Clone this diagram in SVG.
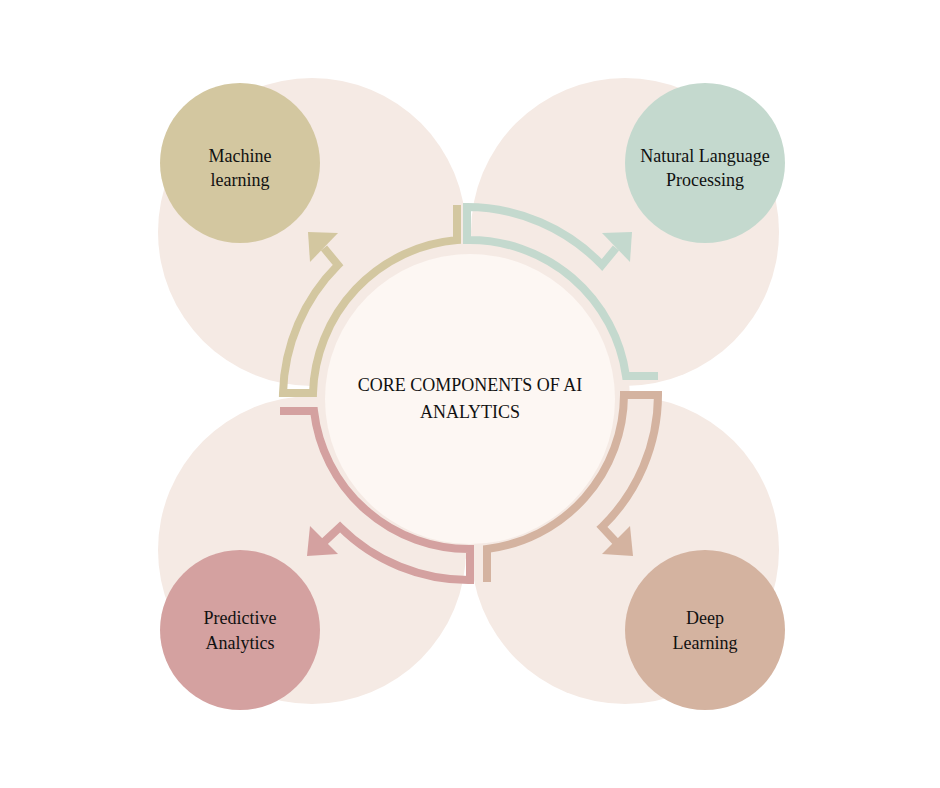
<svg xmlns="http://www.w3.org/2000/svg" width="940" height="788" viewBox="0 0 940 788">
<style>
.bg{fill:#F5EAE4}
.t{font-family:"Liberation Serif",serif;font-size:18px;fill:#111;text-anchor:middle}
.a{fill:none;stroke-width:8;stroke-linejoin:miter}
</style>
<rect width="940" height="788" fill="#fff"/>
<g id="backdrop">
<circle class="bg" cx="312" cy="232" r="154"/>
<circle class="bg" cx="625" cy="232" r="154"/>
<circle class="bg" cx="312" cy="550" r="154"/>
<circle class="bg" cx="625" cy="550" r="154"/>
<circle class="bg" cx="470" cy="399" r="160"/>
</g>
<g id="center">
<circle cx="470" cy="399" r="145" fill="#FDF7F3"/>
<text class="t" x="470" y="391">CORE COMPONENTS OF AI</text>
<text class="t" x="470" y="418">ANALYTICS</text>
</g>
<g id="connectors">
<path class="a" stroke="#D3C7A0" d="M457,205 V240 A158 158 0 0 0 313,393 H283 A188 188 0 0 1 338,265 L324,248"/>
<polygon fill="#D3C7A0" points="308,232 338,233 310,262"/>
<path class="a" stroke="#C4D9CE" d="M658,376 H626 A158 158 0 0 0 467,240 V207 A188 188 0 0 1 602,265 L616,248"/>
<polygon fill="#C4D9CE" points="632,232 602,233 630,262"/>
<path class="a" stroke="#D4A1A0" d="M280,411 H314 A156 156 0 0 0 470,549 V580 A182 182 0 0 1 340,527 L324,542"/>
<polygon fill="#D4A1A0" points="307,556 338,554 310,526"/>
<path class="a" stroke="#D4B3A0" d="M487,582 V549 A156 156 0 0 0 624,395 H658 A185 185 0 0 1 602,527 L616,542"/>
<polygon fill="#D4B3A0" points="633,556 602,554 630,526"/>
</g>
<g id="ml"><circle cx="240" cy="163" r="80" fill="#D3C7A0"/>
<text class="t" x="240" y="162">Machine</text><text class="t" x="240" y="186">learning</text></g>
<g id="nlp"><circle cx="705" cy="163" r="80" fill="#C4D9CE"/>
<text class="t" x="705" y="162">Natural Language</text><text class="t" x="705" y="186">Processing</text></g>
<g id="pa"><circle cx="240" cy="630" r="80" fill="#D4A1A0"/>
<text class="t" x="240" y="624">Predictive</text><text class="t" x="240" y="649">Analytics</text></g>
<g id="dl"><circle cx="705" cy="630" r="80" fill="#D4B3A0"/>
<text class="t" x="705" y="624">Deep</text><text class="t" x="705" y="649">Learning</text></g>
</svg>
